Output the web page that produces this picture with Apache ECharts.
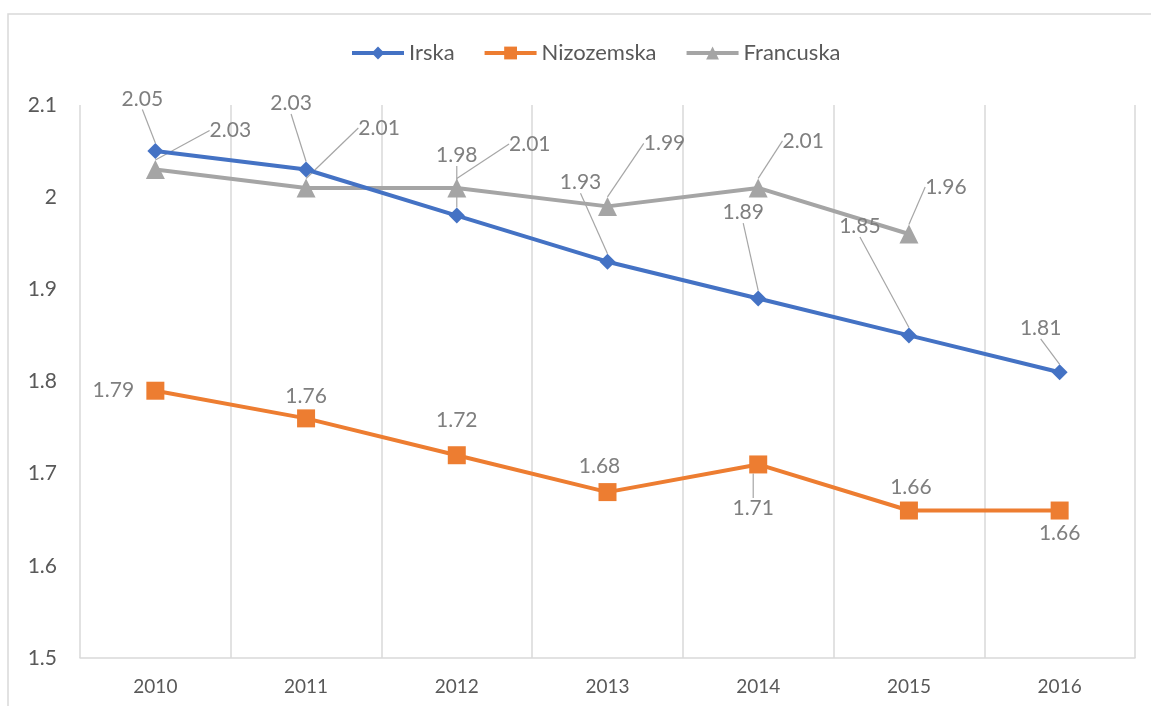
<!DOCTYPE html>
<html>
<head>
<meta charset="utf-8">
<script src="https://cdn.jsdelivr.net/npm/echarts@6/dist/echarts.min.js"></script>
<style>html,body{margin:0;padding:0;background:#fff}#c{width:1151px;height:706px}</style>
</head>
<body>
<div id="c"></div>
<script>
const categories = ['2010', '2011', '2012', '2013', '2014', '2015', '2016'];
const irska = [2.05, 2.03, 1.98, 1.93, 1.89, 1.85, 1.81];
const nizozemska = [1.79, 1.76, 1.72, 1.68, 1.71, 1.66, 1.66];
const francuska = [2.03, 2.01, 2.01, 1.99, 2.01, 1.96, null];
const seriesNames = ['Irska', 'Nizozemska', 'Francuska'];

// label offsets (label centre relative to point), per series
const labelOffsets = [
  [[-13,-52],[-15,-66],[0,-60],[-27,-79],[-15,-86],[-49,-109],[-19,-44]],
  [[-42,0],[0,-22],[0,-35],[-8,-26],[-5,44],[2,-23],[0,23]],
  [[75,-39],[73,-60],[73,-44],[57,-63],[45,-47],[37,-47],[0,0]]
];
const showLine = [
  [true,true,true,true,true,true,true],
  [false,false,false,false,true,false,false],
  [true,true,true,true,true,true,false]
];

const colors = ['#4472C4', '#ED7D31', '#A5A5A5'];
const symbols = ['diamond', 'rect', 'triangle'];
const symbolSizes = [16, 18, 19];
const font = 'Lato, "Liberation Sans", sans-serif';

function mkSeries(idx, values) {
  return {
    name: seriesNames[idx],
    type: 'line',
    data: values.map((v, i) => ({
      value: v,
      labelLine: { show: showLine[idx][i] }
    })),
    symbol: symbols[idx],
    symbolSize: symbolSizes[idx],
    itemStyle: { color: colors[idx] },
    lineStyle: { color: colors[idx], width: 4 },
    z: idx === 2 ? 3 : (idx === 0 ? 4 : 2),
    label: {
      show: true,
      position: 'inside',
      formatter: p => p.value == null ? '' : Number(p.value).toFixed(2),
      color: '#7f7f7f',
      fontSize: 21,
      fontFamily: font
    },
    labelLine: {
      show: true,
      lineStyle: { color: '#a6a6a6', width: 1.2 }
    },
    labelLayout: function (params) {
      const o = labelOffsets[idx][params.dataIndex] || [0, 0];
      return { dx: o[0], dy: o[1] };
    },
    emphasis: { disabled: true },
    animation: false
  };
}

const chart = echarts.init(document.getElementById('c'), null, { renderer: 'canvas' });
chart.setOption({
  animation: false,
  backgroundColor: '#fff',
  graphic: [{
    type: 'rect',
    shape: { x: 8, y: 14, width: 1160, height: 720 },
    style: { fill: 'none', stroke: '#d9d9d9', lineWidth: 1.5 },
    silent: true
  }],
  legend: {
    top: 37,
    left: 345,
    itemWidth: 52,
    itemHeight: 16,
    itemGap: 28,
    lineStyle: { width: 4 },
    textStyle: { color: '#595959', fontSize: 22, fontFamily: font },
    data: seriesNames
  },
  grid: { left: 80, right: 16, top: 105, bottom: 48, containLabel: false },
  xAxis: {
    type: 'category',
    data: categories,
    boundaryGap: true,
    axisTick: { show: false },
    axisLine: { lineStyle: { color: '#d9d9d9', width: 1.5 } },
    splitLine: { show: true, lineStyle: { color: '#d9d9d9', width: 1.5 } },
    axisLabel: { color: '#595959', fontSize: 19, fontFamily: font, margin: 19 }
  },
  yAxis: {
    type: 'value',
    min: 1.5,
    max: 2.1,
    interval: 0.1,
    axisLine: { show: false },
    axisTick: { show: false },
    splitLine: { show: false },
    axisLabel: { color: '#595959', fontSize: 21, fontFamily: font, margin: 23 }
  },
  series: [mkSeries(0, irska), mkSeries(1, nizozemska), mkSeries(2, francuska)]
});
</script>
</body>
</html>
